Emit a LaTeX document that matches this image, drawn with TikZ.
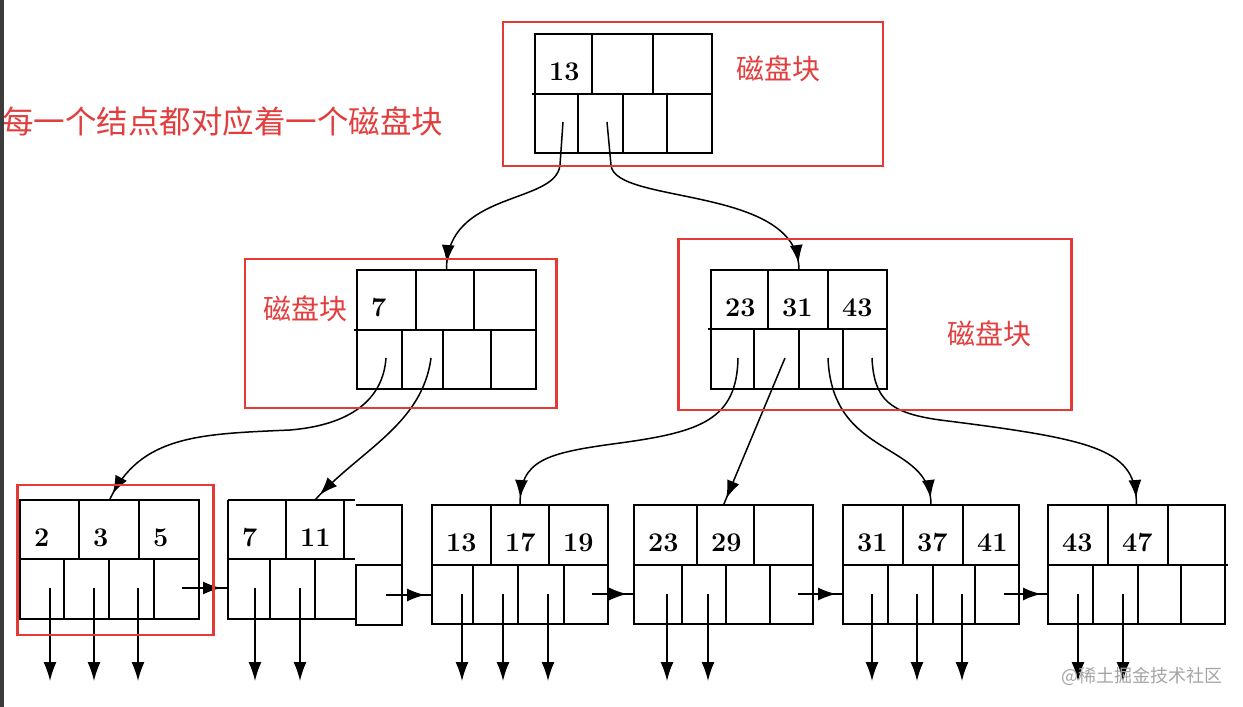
\documentclass[tikz,border=0pt]{standalone}
\usepackage{fontspec}
\newfontfamily\cjk{Noto Sans CJK SC}
\usetikzlibrary{arrows.meta,decorations.markings}
\definecolor{boxred}{RGB}{229,57,53}
\definecolor{txtred}{RGB}{226,62,62}
\definecolor{barcol}{RGB}{60,60,60}
\definecolor{wmark}{RGB}{165,165,165}
\tikzset{
 blk/.style={draw, line width=1.7pt, inner sep=0pt, outer sep=0pt},
 ghost/.style={inner sep=0pt, outer sep=0pt},
 ln/.style={line width=1.7pt},
 keyt/.style={anchor=base west, inner sep=0pt, font=\fontsize{27}{29}\selectfont\bfseries},
 conn/.style={line width=1.5pt, postaction={decorate}, decoration={markings, mark=at position -7pt with {\arrow{Latex[length=18pt,width=13pt]}}}},
 downarr/.style={line width=1.5pt, -{Latex[length=19pt,width=13pt]}},
 rbox/.style={draw=boxred, line width=2.6pt},
 lbl/.style={text=txtred, inner sep=0pt, font=\cjk\fontsize{28}{30}\selectfont},
}
\begin{document}
\begin{tikzpicture}[x=1pt,y=-1pt]
\fill[white] (0,0) rectangle (1243,707);
\useasboundingbox (0,0) rectangle (1243,707);

% ---------- blocks ----------
\node[blk, minimum width=177pt, minimum height=119pt] (root) at (623.5,93.5) {};
\draw[ln] (532,94) -- (712,94);
\draw[ln] (592,34) -- (592,94) (653,34) -- (653,94);
\draw[ln] (578,94) -- (578,153) (623,94) -- (623,153) (667,94) -- (667,153);

\node[blk, minimum width=179pt, minimum height=119pt] (midL) at (446.5,329.5) {};
\draw[ln] (354,330) -- (536,330);
\draw[ln] (416,270) -- (416,330) (474,270) -- (474,330);
\draw[ln] (402,330) -- (402,389) (443,330) -- (443,389) (491,330) -- (491,389);

\node[blk, minimum width=176pt, minimum height=119pt] (midR) at (799,329.5) {};
\draw[ln] (708,329) -- (887,329);
\draw[ln] (768,270) -- (768,329) (828,270) -- (828,329);
\draw[ln] (754,329) -- (754,389) (799,329) -- (799,389) (843,329) -- (843,389);

\node[blk, minimum width=179pt, minimum height=119pt] (leaf1) at (109.5,559.5) {};
\draw[ln] (20,559) -- (199,559);
\draw[ln] (79,500) -- (79,559) (139,500) -- (139,559);
\draw[ln] (64,559) -- (64,619) (109,559) -- (109,619) (154,559) -- (154,619);

\node[ghost, minimum width=174pt, minimum height=119pt] (leaf2) at (315,559.5) {};
\draw[ln] (228,500) -- (355,500);
\draw[ln] (228,500) -- (228,619) -- (356,619);
\draw[ln] (286,500) -- (286,559) (344,500) -- (344,559);
\draw[ln] (228,559) -- (355,559);
\draw[ln] (270,559) -- (270,619) (315,559) -- (315,619);
\draw[ln] (356,565) rectangle (402,625);
\draw[ln] (356,505) -- (402,505) -- (402,565);

\node[blk, minimum width=176pt, minimum height=119pt] (leaf3) at (520,564.5) {};
\draw[ln] (432,565) -- (608,565);
\draw[ln] (491,505) -- (491,565) (549,505) -- (549,565);
\draw[ln] (473,565) -- (473,624) (518,565) -- (518,624) (564,565) -- (564,624);

\node[blk, minimum width=179pt, minimum height=119pt] (leaf4) at (723.5,564.5) {};
\draw[ln] (634,565) -- (813,565);
\draw[ln] (697,505) -- (697,565) (754,505) -- (754,565);
\draw[ln] (682,565) -- (682,624) (726,565) -- (726,624) (770,565) -- (770,624);

\node[blk, minimum width=176pt, minimum height=119pt] (leaf5) at (931,564.5) {};
\draw[ln] (843,565) -- (1019,565);
\draw[ln] (903,505) -- (903,565) (963,505) -- (963,565);
\draw[ln] (888,565) -- (888,624) (933,565) -- (933,624) (975,565) -- (975,624);

\node[blk, minimum width=177pt, minimum height=119pt] (leaf6) at (1136.5,564.5) {};
\draw[ln] (1048,565) -- (1228,565);
\draw[ln] (1108,505) -- (1108,565) (1168,505) -- (1168,565);
\draw[ln] (1093,565) -- (1093,624) (1138,565) -- (1138,624) (1181,565) -- (1181,624);

% ---------- keys ----------
\node[keyt] (k-root) at (549,80) {13};
\node[keyt] (k-ml) at (371,316) {7};
\node[keyt] (k-mr1) at (725,316) {23};
\node[keyt] (k-mr2) at (782,316) {31};
\node[keyt] (k-mr3) at (842,316) {43};
\node[keyt] (k-l1a) at (34,546) {2};
\node[keyt] (k-l1b) at (93,546) {3};
\node[keyt] (k-l1c) at (153,546) {5};
\node[keyt] (k-l2a) at (242,546) {7};
\node[keyt] (k-l2b) at (300,546) {11};
\node[keyt] (k-l3a) at (446,551) {13};
\node[keyt] (k-l3b) at (505,551) {17};
\node[keyt] (k-l3c) at (563,551) {19};
\node[keyt] (k-l4a) at (648,551) {23};
\node[keyt] (k-l4b) at (711,551) {29};
\node[keyt] (k-l5a) at (857,551) {31};
\node[keyt] (k-l5b) at (917,551) {37};
\node[keyt] (k-l5c) at (977,551) {41};
\node[keyt] (k-l6a) at (1062,551) {43};
\node[keyt] (k-l6b) at (1122,551) {47};

% ---------- pointer sources ----------
\coordinate (r1) at (563,122);
\coordinate (r2) at (607,122);
\coordinate (ml1) at (386,358);
\coordinate (ml2) at (431,358);
\coordinate (mr1) at (738,358);
\coordinate (mr2) at (785,358);
\coordinate (mr3) at (828,358);
\coordinate (mr4) at (872,358);

% ---------- tree connectors ----------
\draw[conn] (r1) -- (560,165) .. controls (556,205) and (446,190) .. (midL.north);
\draw[conn] (r2) -- (611,165) .. controls (614,205) and (799,185) .. (midR.north);
\draw[conn] (ml1) .. controls (383,400) and (350,425) .. (290,430) .. controls (200,434) and (140,435) .. (leaf1.north);
\draw[conn] (ml2) .. controls (422,425) and (360,450) .. (leaf2.north);
\draw[conn] (mr1) .. controls (737,420) and (700,432) .. (620,443) .. controls (545,453) and (520,460) .. (leaf3.north);
\draw[conn] (mr2) -- (leaf4.north);
\draw[conn] (mr3) .. controls (832,460) and (931,440) .. (leaf5.north);
\draw[conn] (mr4) .. controls (874,400) and (890,413) .. (940,420) .. controls (1100,440) and (1136,450) .. (leaf6.north);

% ---------- leaf links ----------
\coordinate (l1r) at (182,588);
\coordinate (l2r) at (386,595);
\coordinate (l3r) at (592,594);
\coordinate (l4r) at (798,594);
\coordinate (l5r) at (1004,594);
\draw[conn] (l1r) -- (l1r -| leaf2.west);
\draw[conn] (l2r) -- (l2r -| leaf3.west);
\draw[conn] (l3r) -- (l3r -| leaf4.west);
\draw[conn] (l4r) -- (l4r -| leaf5.west);
\draw[conn] (l5r) -- (l5r -| leaf6.west);

% ---------- record pointers ----------
\foreach \px/\py [count=\i] in {50/588, 94/588, 138/588, 255/588, 300/588,
  462/594, 503/594, 548/594, 667/594, 708/594,
  872/594, 917/594, 962/594, 1078/594, 1123/594} {
  \coordinate (rp\i) at (\px,\py);
  \coordinate (rd\i) at (\px,681);
  \draw[downarr] (rp\i) -- (rd\i);
}

% ---------- red frames and labels ----------
\draw[rbox] (503,22) rectangle (883,166);
\draw[rbox] (245,259) rectangle (556.5,408);
\draw[rbox] (678.5,239) rectangle (1071.5,410);
\draw[rbox] (17.5,485) rectangle (213.5,635);

\node[lbl] (lab-root) at (778,68.5) {磁盘块};
\node[lbl] (lab-ml) at (305,309) {磁盘块};
\node[lbl] (lab-mr) at (989,334) {磁盘块};
\node[lbl, anchor=west, font=\cjk\fontsize{31.5}{33}\selectfont] (title) at (2,121.5) {每一个结点都对应着一个磁盘块};

\node[text=wmark, inner sep=0pt, font=\cjk\fontsize{18}{20}\selectfont] (wm) at (1142,676) {@稀土掘金技术社区};

\fill[barcol] (0,0) rectangle (3.5,707);
\end{tikzpicture}
\end{document}
